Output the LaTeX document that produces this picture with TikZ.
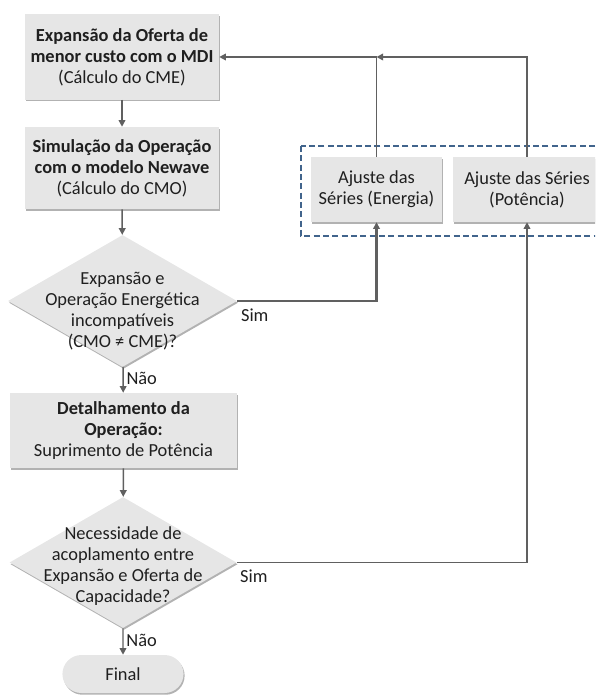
\documentclass[tikz,border=0pt]{standalone}
\usepackage{fontspec}
\setmainfont{Carlito}
\usetikzlibrary{shapes.geometric,shapes.misc,arrows.meta,shadows}

\definecolor{cinzacaixa}{HTML}{E6E6E6}
\definecolor{cinzalinha}{HTML}{606060}
\definecolor{azultraco}{HTML}{41648C}
\definecolor{textoescuro}{HTML}{1F1F1F}

\begin{document}
\begin{tikzpicture}[x=0.75pt, y=-0.75pt,
  every node/.style={font=\fontsize{13.8}{15.8}\selectfont, text=textoescuro, align=center},
  sombra/.style={drop shadow={shadow xshift=0.8pt, shadow yshift=-1.3pt, fill=black, opacity=0.3}},
  caixa/.style={rectangle, fill=cinzacaixa, sombra},
  decisao/.style={diamond, fill=cinzacaixa, inner sep=0pt, sombra},
  terminal/.style={rounded rectangle, fill=cinzacaixa, sombra},
  seta/.style={draw=cinzalinha, line width=1.1pt, -{Triangle[length=5pt,width=5pt]}},
  setagrossa/.style={seta, line width=1.7pt},
  rotulo/.style={inner sep=2pt}]
% Page frame
\clip (0,0) rectangle (595,698);

% Main flow (left column)
\node[caixa, minimum width=145.5pt, minimum height=64pt] (expansao) at (122,57)
  {\textbf{Expansão da Oferta de}\\\textbf{menor custo com o MDI}\\(Cálculo do CME)};
\node[caixa, minimum width=145.5pt, minimum height=61.5pt] (simulacao) at (122,168)
  {\textbf{Simulação da Operação}\\\textbf{com o modelo Newave}\\(Cálculo do CMO)};

% First decision
\node[decisao, minimum width=171.75pt, minimum height=99pt] (teste1) at (122.5,301) {};
\node (teste1txt) at (122.5,311)
  {Expansão e\\Operação Energética\\incompatíveis\\(CMO ≠ CME)?};

\node[caixa, minimum width=170.25pt, minimum height=56.25pt] (detalhe) at (123.5,430.5)
  {\textbf{Detalhamento da}\\\textbf{Operação:}\\Suprimento de Potência};

% Second decision
\node[decisao, minimum width=170.25pt, minimum height=98.25pt] (teste2) at (123,562.5) {};
\node (teste2txt) at (123,566)
  {Necessidade de\\acoplamento entre\\Expansão e Oferta de\\Capacidade?};

\node[terminal, minimum width=97.5pt, minimum height=28.5pt] (fim) at (123,674) {Final};

% Series adjustment (right side)
\draw[azultraco, line width=0.8pt, dash pattern=on 4.5pt off 2.5pt] (301,146) rectangle (610,236);
\node[caixa, minimum width=98.25pt, minimum height=48.75pt] (energia) at (376.5,189.5)
  {Ajuste das\\Séries (Energia)};
\node[caixa, minimum width=111pt, minimum height=48.75pt] (potencia) at (527,189.5)
  {Ajuste das Séries\\(Potência)};

% Connectors
\draw[seta] (expansao) -- (simulacao);
\draw[seta] (simulacao) -- (teste1);
\draw[seta] (teste1) -- node[rotulo, right, pos=0.45] (nao1) {Não} (detalhe);
\draw[seta] (detalhe) -- (teste2);
\draw[seta] (teste2) -- node[rotulo, right, pos=0.45] (nao2) {Não} (fim);

\draw[setagrossa] (teste1.east) -| node[rotulo, below right, pos=0, yshift=-3pt] (sim1) {Sim} (energia.south);
\draw[seta] (teste2.east) -| node[rotulo, below right, pos=0, yshift=-3pt] (sim2) {Sim} (potencia.south);

\coordinate (junta) at (energia.north |- expansao.east);
\draw[seta] (energia.north) |- (expansao.east);
\draw[setagrossa] (potencia.north) |- (junta);
\end{tikzpicture}
\end{document}
